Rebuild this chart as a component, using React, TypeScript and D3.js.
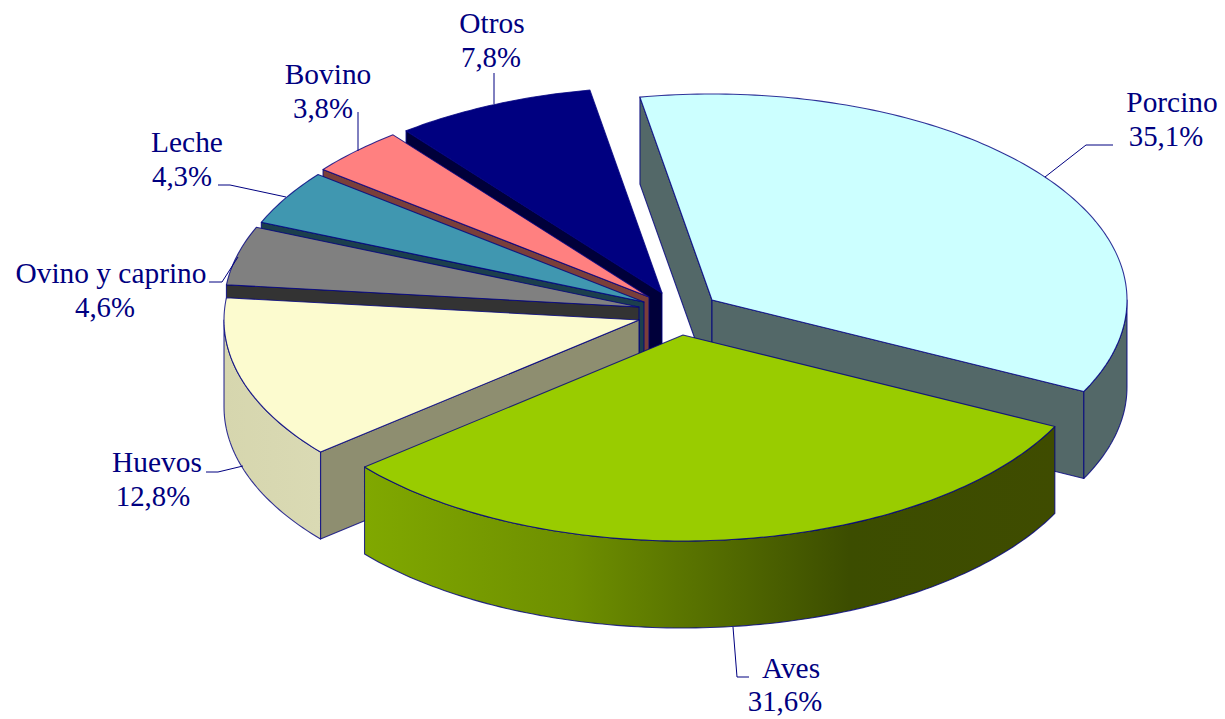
import React from "react";
import * as d3 from "d3";

const categories = ["Porcino", "Aves", "Huevos", "Ovino y caprino", "Leche", "Bovino", "Otros"];
const percentValues = [35.1, 31.6, 12.8, 4.6, 4.3, 3.8, 7.8];
const percentLabels = ["35,1%", "31,6%", "12,8%", "4,6%", "4,3%", "3,8%", "7,8%"];
const topColors = ["#CCFFFF", "#99CC00", "#FCFBCF", "#808080", "#4097B0", "#FF8080", "#000080"];
const wallColors = ["#536868", "#3D4C00", "#8E8E70", "#333333", "#1C3F4D", "#7A3F3A", "#00003A"];
const rimColors = ["#536868", "url(#avesRim)", "url(#huevosRim)", "#333333", "#1C3F4D", "#7A3F3A", "#00003A"];
const apexX = [712, 683, 639, 639, 644, 649, 662];
const apexY = [300, 335, 320, 307, 302, 297, 293];
const drawOrder = [6, 5, 4, 3, 2, 0, 1];

const labelNameX = [1172, 791, 157, 111, 187, 328, 492];
const labelPctX = [1166, 785, 153, 105, 182, 323, 491];
const labelNameY = [112, 678, 472, 283, 152, 84, 33];
const labelPctY = [146, 711, 506, 317, 186, 118, 67];
const leaders: [number, number][][] = [
  [[1113, 145], [1086, 145], [1045, 177]],
  [[733, 627], [737, 677], [749, 677]],
  [[206, 472], [218, 472], [243, 466]],
  [[209, 282], [222, 282], [238, 257]],
  [[218, 185], [230, 185], [286, 197]],
  [[358, 112], [358, 151]],
  [[494, 73], [494, 104]],
];

const RX = 415;
const RY = 206;
const DEPTH = 87;
const NAVY = "#000080";
const sx = d3.scaleLinear().domain([-1, 1]).range([-RX, RX]);
const sy = d3.scaleLinear().domain([-1, 1]).range([RY, -RY]);
const toDeg = (r: number) => (r * 180) / Math.PI;

const pie = d3
  .pie<number>()
  .sort(null)
  .startAngle((-10 * Math.PI) / 180)
  .endAngle((350 * Math.PI) / 180);
const arcs = pie(percentValues);

const line = d3.line<[number, number]>();

function pt(i: number, a: number, dy = 0): [number, number] {
  return [apexX[i] + sx(Math.sin(a)), apexY[i] + sy(Math.cos(a)) + dy];
}
function arcPts(i: number, a0: number, a1: number, dy = 0): [number, number][] {
  const n = Math.max(2, Math.ceil(toDeg(a1 - a0)));
  return d3.range(n + 1).map((k) => pt(i, a0 + ((a1 - a0) * k) / n, dy));
}

function Slice({ i }: { i: number }) {
  const { startAngle: a0, endAngle: a1 } = arcs[i];
  const apex: [number, number] = [apexX[i], apexY[i]];
  const apexLow: [number, number] = [apexX[i], apexY[i] + DEPTH];
  const parts: React.ReactNode[] = [];
  const common = { stroke: NAVY, strokeWidth: 1.1, strokeOpacity: 0.8, strokeLinejoin: "round" as const };

  // radial walls facing the viewer
  if (Math.sin(a0) < 0) {
    const p = pt(i, a0);
    const q = pt(i, a0, DEPTH);
    parts.push(<path key="w0" d={line([apex, p, q, apexLow])! + "Z"} fill={wallColors[i]} {...common} />);
  }
  if (Math.sin(a1) > 0) {
    const p = pt(i, a1);
    const q = pt(i, a1, DEPTH);
    parts.push(<path key="w1" d={line([apex, p, q, apexLow])! + "Z"} fill={wallColors[i]} {...common} />);
  }
  // outer rim: the front half of the ellipse
  const r0 = Math.max(a0, Math.PI / 2);
  const r1 = Math.min(a1, (3 * Math.PI) / 2);
  if (r1 > r0) {
    const upper = arcPts(i, r0, r1);
    const lower = arcPts(i, r0, r1, DEPTH).reverse();
    parts.push(<path key="rim" d={line([...upper, ...lower])! + "Z"} fill={rimColors[i]} {...common} />);
  }
  parts.push(
    <path key="top" d={line([apex, ...arcPts(i, a0, a1)])! + "Z"} fill={topColors[i]} {...common} />
  );
  return <g>{parts}</g>;
}

export default function App() {
  const textStyle = {
    fontFamily: "'Liberation Serif', serif",
    fontSize: 29.4,
    fill: NAVY,
    textAnchor: "middle" as const,
  };
  return (
    <svg
      width={1225}
      height={719}
      viewBox="0 0 1225 719"
      style={{ position: "absolute", left: 0, top: 0, background: "#fff" }}
    >
      <defs>
        <linearGradient id="avesRim" gradientUnits="userSpaceOnUse" x1={366} x2={1056} y1={0} y2={0}>
          <stop offset="0" stopColor="#80A800" />
          <stop offset="0.3" stopColor="#6E8F00" />
          <stop offset="0.5" stopColor="#556E00" />
          <stop offset="0.7" stopColor="#3C4D00" />
          <stop offset="1" stopColor="#3F4C00" />
        </linearGradient>
        <linearGradient id="huevosRim" gradientUnits="userSpaceOnUse" x1={224} x2={321} y1={0} y2={0}>
          <stop offset="0" stopColor="#D6D6AE" />
          <stop offset="1" stopColor="#DADAB4" />
        </linearGradient>
      </defs>
      {drawOrder.map((i) => (
        <Slice key={categories[i]} i={i} />
      ))}
      {leaders.map((l, i) => (
        <path key={i} d={line(l)!} fill="none" stroke={NAVY} strokeWidth={1} />
      ))}
      {categories.map((c, i) => (
        <g key={c} style={textStyle}>
          <text x={labelNameX[i]} y={labelNameY[i]}>{c}</text>
          <text x={labelPctX[i]} y={labelPctY[i]} fontSize={28.8} style={{ fontSize: 28.8 }}>{percentLabels[i]}</text>
        </g>
      ))}
    </svg>
  );
}
